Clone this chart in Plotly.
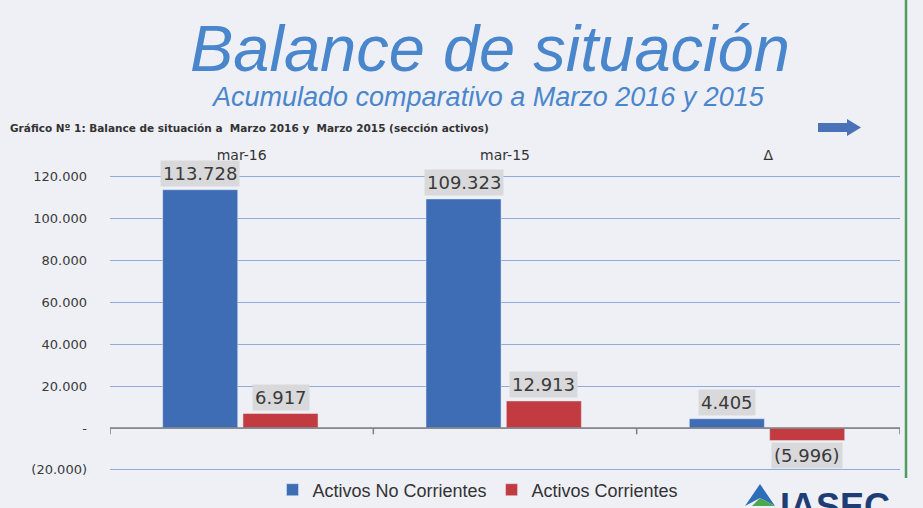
import plotly.graph_objects as go

categories = ["mar-16", "mar-15", "Δ"]
activos_no_corrientes = [113728, 109323, 4405]
activos_corrientes = [6917, 12913, -5996]
y_tickvals = [-20000, 0, 20000, 40000, 60000, 80000, 100000, 120000]
y_ticktext = ["(20.000)", "-", "20.000", "40.000", "60.000", "80.000", "100.000", "120.000"]

BLUE = "#3F6DB5"
RED = "#C23B40"
BG = "#EEF0F6"
BAR_W = 0.285
OFF_BLUE = -0.30
OFF_RED = 0.005


def fmt(v):
    s = f"{abs(v):,}".replace(",", ".")
    return f"({s})" if v < 0 else s


fig = go.Figure()
fig.add_trace(go.Bar(name="Activos No Corrientes", x=categories, y=activos_no_corrientes,
                     marker_color=BLUE, width=BAR_W, offset=OFF_BLUE))
fig.add_trace(go.Bar(name="Activos Corrientes", x=categories, y=activos_corrientes,
                     marker_color=RED, width=BAR_W, offset=OFF_RED))

annotations = []
for series, off in ((activos_no_corrientes, OFF_BLUE), (activos_corrientes, OFF_RED)):
    for i, v in enumerate(series):
        annotations.append(dict(
            x=i + off + BAR_W / 2, y=v, xref="x", yref="y", text=fmt(v), showarrow=False,
            yanchor="bottom" if v >= 0 else "top", yshift=3 if v >= 0 else -1,
            font=dict(family="DejaVu Sans", size=18, color="#3A3A3A"),
            bgcolor="#D9D9DB", borderpad=2))

L, R, T, B = 110, 23, 164, 36
PW, PH = 923 - L - R, 508 - T - B


def px(xp, yp):
    return (xp - L) / PW, (508 - yp - B) / PH


def paper_ann(text, xp, yp, **kw):
    x, y = px(xp, yp)
    d = dict(text=text, x=x, y=y, xref="paper", yref="paper", showarrow=False,
             yanchor="middle")
    d.update(kw)
    return d


annotations += [
    paper_ann("Balance de situación", 490, 48,
              font=dict(family="Liberation Sans", size=65, color="#4A86CC", style="italic")),
    paper_ann("Acumulado comparativo a Marzo 2016 y 2015", 488, 97,
              font=dict(family="Liberation Sans", size=27, color="#4A86CC", style="italic")),
    paper_ann("<b>Gráfico Nº 1: Balance de situación a  Marzo 2016 y  Marzo 2015 (sección activos)</b>",
              8, 128, xanchor="left",
              font=dict(family="DejaVu Sans", size=10.5, color="#333333")),
    paper_ann("<b>IASEC</b>", 778, 484, xanchor="left", yanchor="top",
              font=dict(family="Liberation Sans", size=36, color="#1F3D75")),
]

shapes = []
# zero axis line and tick marks
shapes.append(dict(type="line", xref="paper", yref="y", x0=0, x1=1, y0=0, y1=0,
                   line=dict(color="#7F7F7F", width=1.5)))
for k in range(len(categories) + 1):
    shapes.append(dict(type="line", xref="x", yref="y", x0=k - 0.5, x1=k - 0.5, y0=0, y1=-3000,
                       line=dict(color="#7F7F7F", width=1.5)))

# arrow
ax0, ay0 = px(818, 123)
ax1, ay1 = px(847, 132)
tip, tipy = px(861, 127.5)
ah0x, ah0y = px(847, 119)
ah1x, ah1y = px(847, 136)
shapes.append(dict(type="path", xref="paper", yref="paper",
                   path=f"M{ax0},{ay0} L{ax1},{ay0} L{ah0x},{ah0y} L{tip},{tipy} L{ah1x},{ah1y} L{ax1},{ay1} L{ax0},{ay1} Z",
                   fillcolor="#4A72B8", line=dict(width=0)))
# green vertical line
gx, gy0 = px(906, 0)
_, gy1 = px(906, 478)
shapes.append(dict(type="line", xref="paper", yref="paper", x0=gx, x1=gx, y0=gy0, y1=gy1,
                   line=dict(color="#4E9A60", width=2.5)))
# logo triangles
t1 = px(745, 506); t2 = px(760, 484); t3 = px(775, 506); t4 = px(760, 498)
shapes.append(dict(type="path", xref="paper", yref="paper",
                   path=f"M{t1[0]},{t1[1]} L{t2[0]},{t2[1]} L{t3[0]},{t3[1]} L{t4[0]},{t4[1]} Z",
                   fillcolor="#2E6DB8", line=dict(width=0)))
g1 = px(760, 498); g2 = px(775, 506); g3 = px(752, 506)
shapes.append(dict(type="path", xref="paper", yref="paper",
                   path=f"M{g1[0]},{g1[1]} L{g2[0]},{g2[1]} L{g3[0]},{g3[1]} Z",
                   fillcolor="#4CA84E", line=dict(width=0)))

lx, ly = px(478, 490)
fig.update_layout(
    width=923, height=508,
    margin=dict(l=L, r=R, t=T, b=B, autoexpand=False),
    paper_bgcolor=BG, plot_bgcolor=BG,
    showlegend=True,
    legend=dict(orientation="h", x=lx, y=ly, xanchor="center", yanchor="middle",
                font=dict(family="Liberation Sans", size=18, color="#333333"),
                bgcolor="rgba(0,0,0,0)"),
    annotations=annotations,
    shapes=shapes,
    xaxis=dict(type="category", side="top", range=[-0.5, 2.5], showgrid=False,
               showline=False, ticks="", zeroline=False, automargin=False,
               tickfont=dict(family="DejaVu Sans", size=14, color="#333333")),
    yaxis=dict(range=[-21000, 126000], tickvals=y_tickvals, ticktext=y_ticktext,
               showgrid=True, gridcolor="#8FAADC", gridwidth=1, zeroline=False,
               ticks="", ticklabelstandoff=22, automargin=False,
               tickfont=dict(family="DejaVu Sans", size=13, color="#3A3A3A")),
)

fig.write_html("out.html", config={"displayModeBar": False},
               post_script="document.body.style.margin='0';")
